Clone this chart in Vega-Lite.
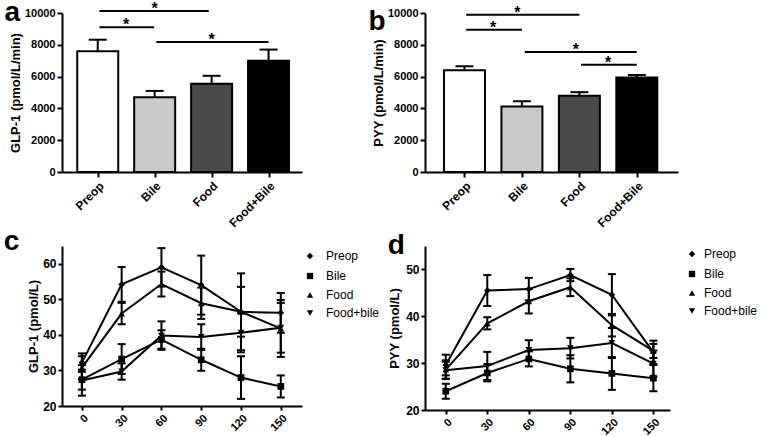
{
  "$schema": "https://vega.github.io/schema/vega-lite/v6.json",
  "padding": {"left": 3, "top": -2, "right": 0, "bottom": 0},
  "background": "white",
  "config": {
    "view": {"stroke": null},
    "font": "Liberation Sans",
    "axis": {
      "domainColor": "black", "domainWidth": 2, "tickColor": "black", "tickWidth": 2, "tickSize": 5,
      "labelColor": "black", "labelFont": "Liberation Sans", "labelFontWeight": "bold", "labelFontSize": 11,
      "titleFont": "Liberation Sans", "titleFontWeight": "bold", "titleFontSize": 13, "titleColor": "black",
      "grid": false, "labelPadding": 2, "titlePadding": 5, "labelOverlap": false, "format": "d"
    },
    "axisY": {"titlePadding": 2},
    "legend": {
      "labelFont": "Liberation Sans", "labelFontSize": 12, "labelColor": "black",
      "symbolFillColor": "black", "symbolStrokeColor": "black", "symbolSize": 40, "rowPadding": 6, "labelOffset": 8
    },
    "title": {"font": "Liberation Sans", "fontWeight": "bold", "fontSize": 28, "color": "black", "anchor": "start", "frame": "bounds", "baseline": "alphabetic"}
  },
  "datasets": {
    "barsA": [
      {"g": "Preop", "i": 0, "mean": 7600, "upper": 8320},
      {"g": "Bile", "i": 1, "mean": 4700, "upper": 5100},
      {"g": "Food", "i": 2, "mean": 5550, "upper": 6050},
      {"g": "Food+Bile", "i": 3, "mean": 7000, "upper": 7700}
    ],
    "barsB": [
      {"g": "Preop", "i": 0, "mean": 6400, "upper": 6650},
      {"g": "Bile", "i": 1, "mean": 4120, "upper": 4450},
      {"g": "Food", "i": 2, "mean": 4800, "upper": 5020},
      {"g": "Food+Bile", "i": 3, "mean": 5950, "upper": 6100}
    ],
    "sigA": [
      {"x1": 0.03, "x2": 1.95, "y": 10130, "xm": 1.0},
      {"x1": 0.03, "x2": 0.99, "y": 9100, "xm": 0.5},
      {"x1": 1.03, "x2": 3.0, "y": 8180, "xm": 2.0}
    ],
    "sigB": [
      {"x1": 0.03, "x2": 2.0, "y": 9890, "xm": 0.92},
      {"x1": 0.03, "x2": 1.0, "y": 8950, "xm": 0.5},
      {"x1": 1.05, "x2": 3.0, "y": 7550, "xm": 1.94},
      {"x1": 2.03, "x2": 3.0, "y": 6750, "xm": 2.5}
    ],
    "lineC": [
      {"t": 0, "grp": "Preop", "v": 32.2, "lo": 29.6, "hi": 34.8},
      {"t": 30, "grp": "Preop", "v": 54.2, "lo": 49.3, "hi": 59.1},
      {"t": 60, "grp": "Preop", "v": 59.0, "lo": 53.6, "hi": 64.4},
      {"t": 90, "grp": "Preop", "v": 54.0, "lo": 45.7, "hi": 62.3},
      {"t": 120, "grp": "Preop", "v": 46.5, "lo": 35.7, "hi": 57.3},
      {"t": 150, "grp": "Preop", "v": 46.2, "lo": 40.6, "hi": 51.8},
      {"t": 0, "grp": "Bile", "v": 27.4, "lo": 24.6, "hi": 30.2},
      {"t": 30, "grp": "Bile", "v": 33.2, "lo": 29.0, "hi": 37.4},
      {"t": 60, "grp": "Bile", "v": 38.7, "lo": 36.1, "hi": 41.3},
      {"t": 90, "grp": "Bile", "v": 33.0, "lo": 29.9, "hi": 36.1},
      {"t": 120, "grp": "Bile", "v": 28.0, "lo": 22.0, "hi": 34.0},
      {"t": 150, "grp": "Bile", "v": 25.5, "lo": 22.4, "hi": 28.6},
      {"t": 0, "grp": "Food", "v": 30.8, "lo": 27.6, "hi": 34.0},
      {"t": 30, "grp": "Food", "v": 46.0, "lo": 43.0, "hi": 49.0},
      {"t": 60, "grp": "Food", "v": 54.3, "lo": 50.8, "hi": 57.8},
      {"t": 90, "grp": "Food", "v": 48.9, "lo": 44.5, "hi": 53.3},
      {"t": 120, "grp": "Food", "v": 46.5, "lo": 39.5, "hi": 53.5},
      {"t": 150, "grp": "Food", "v": 41.8, "lo": 33.8, "hi": 49.8},
      {"t": 0, "grp": "Food+bile", "v": 27.2, "lo": 22.9, "hi": 31.5},
      {"t": 30, "grp": "Food+bile", "v": 29.7, "lo": 27.4, "hi": 32.0},
      {"t": 60, "grp": "Food+bile", "v": 39.8, "lo": 35.8, "hi": 43.8},
      {"t": 90, "grp": "Food+bile", "v": 39.4, "lo": 35.8, "hi": 43.0},
      {"t": 120, "grp": "Food+bile", "v": 40.6, "lo": 35.1, "hi": 46.1},
      {"t": 150, "grp": "Food+bile", "v": 42.0, "lo": 35.0, "hi": 49.0}
    ],
    "lineD": [
      {"t": 0, "grp": "Preop", "v": 29.6, "lo": 27.4, "hi": 31.8},
      {"t": 30, "grp": "Preop", "v": 45.5, "lo": 42.2, "hi": 48.8},
      {"t": 60, "grp": "Preop", "v": 45.8, "lo": 43.4, "hi": 48.2},
      {"t": 90, "grp": "Preop", "v": 48.8, "lo": 47.5, "hi": 50.1},
      {"t": 120, "grp": "Preop", "v": 44.6, "lo": 40.2, "hi": 49.0},
      {"t": 150, "grp": "Preop", "v": 32.3, "lo": 29.8, "hi": 34.8},
      {"t": 0, "grp": "Bile", "v": 24.0, "lo": 22.4, "hi": 25.6},
      {"t": 30, "grp": "Bile", "v": 27.9, "lo": 26.1, "hi": 29.7},
      {"t": 60, "grp": "Bile", "v": 30.9, "lo": 29.3, "hi": 32.5},
      {"t": 90, "grp": "Bile", "v": 28.8, "lo": 25.9, "hi": 31.7},
      {"t": 120, "grp": "Bile", "v": 27.8, "lo": 24.3, "hi": 31.3},
      {"t": 150, "grp": "Bile", "v": 26.8, "lo": 24.0, "hi": 29.6},
      {"t": 0, "grp": "Food", "v": 28.6, "lo": 26.6, "hi": 30.6},
      {"t": 30, "grp": "Food", "v": 38.5, "lo": 37.2, "hi": 39.8},
      {"t": 60, "grp": "Food", "v": 43.2, "lo": 40.6, "hi": 45.8},
      {"t": 90, "grp": "Food", "v": 46.2, "lo": 44.3, "hi": 48.1},
      {"t": 120, "grp": "Food", "v": 38.1, "lo": 35.7, "hi": 40.5},
      {"t": 150, "grp": "Food", "v": 32.6, "lo": 31.1, "hi": 34.1},
      {"t": 0, "grp": "Food+bile", "v": 28.5, "lo": 26.7, "hi": 30.3},
      {"t": 30, "grp": "Food+bile", "v": 29.4, "lo": 26.4, "hi": 32.4},
      {"t": 60, "grp": "Food+bile", "v": 32.8, "lo": 30.7, "hi": 34.9},
      {"t": 90, "grp": "Food+bile", "v": 33.2, "lo": 31.0, "hi": 35.4},
      {"t": 120, "grp": "Food+bile", "v": 34.3, "lo": 31.1, "hi": 37.5},
      {"t": 150, "grp": "Food+bile", "v": 29.9, "lo": 27.1, "hi": 32.7}
    ]
  },
  "bounds": "flush",
  "columns": 2,
  "spacing": {"row": 74, "column": 123},
  "resolve": {"scale": {"shape": "independent", "fill": "independent"}, "legend": {"shape": "independent", "fill": "independent"}},
  "concat": [
    {
      "width": 240, "height": 159,
      "title": {"text": "a", "offset": -26, "dx": -5},
      "layer": [
        {
          "data": {"name": "barsA"},
          "mark": {"type": "bar", "size": 41, "stroke": "black", "strokeWidth": 2, "orient": "vertical"},
          "encoding": {
            "x": {"field": "i", "type": "quantitative", "title": null, "scale": {"domain": [-0.54, 3.5], "nice": false, "zero": false},
              "axis": {"values": [0, 1, 2, 3], "labelExpr": "['Preop','Bile','Food','Food+Bile'][datum.value]", "labelAngle": -45, "labelFontSize": 12, "labelPadding": 3}},
            "y": {"field": "mean", "type": "quantitative", "title": "GLP-1 (pmol/L/min)", "scale": {"domain": [0, 10000], "nice": false},
              "axis": {"values": [0, 2000, 4000, 6000, 8000, 10000]}},
            "y2": {"datum": 0},
            "fill": {"field": "g", "type": "nominal", "legend": null,
              "scale": {"domain": ["Preop", "Bile", "Food", "Food+Bile"], "range": ["#ffffff", "#c9c9c9", "#4a4a4a", "#000000"]}}
          }
        },
        {
          "data": {"name": "barsA"},
          "mark": {"type": "rule", "strokeWidth": 2, "color": "black"},
          "encoding": {
            "x": {"field": "i", "type": "quantitative", "title": null, "axis": {"values": [0, 1, 2, 3], "labelExpr": "['Preop','Bile','Food','Food+Bile'][datum.value]", "labelAngle": -45, "labelFontSize": 12, "labelPadding": 3}},
            "y": {"field": "mean", "type": "quantitative", "title": "GLP-1 (pmol/L/min)", "axis": {"values": [0, 2000, 4000, 6000, 8000, 10000]}},
            "y2": {"field": "upper"}
          }
        },
        {
          "data": {"name": "barsA"},
          "mark": {"type": "tick", "orient": "horizontal", "size": 18, "thickness": 2, "color": "black", "opacity": 1},
          "encoding": {
            "x": {"field": "i", "type": "quantitative", "title": null, "axis": {"values": [0, 1, 2, 3], "labelExpr": "['Preop','Bile','Food','Food+Bile'][datum.value]", "labelAngle": -45, "labelFontSize": 12, "labelPadding": 3}},
            "y": {"field": "upper", "type": "quantitative", "title": "GLP-1 (pmol/L/min)", "axis": {"values": [0, 2000, 4000, 6000, 8000, 10000]}}
          }
        },
        {
          "data": {"name": "sigA"},
          "mark": {"type": "rule", "strokeWidth": 2, "color": "black"},
          "encoding": {
            "x": {"field": "x1", "type": "quantitative", "title": null, "axis": {"values": [0, 1, 2, 3], "labelExpr": "['Preop','Bile','Food','Food+Bile'][datum.value]", "labelAngle": -45, "labelFontSize": 12, "labelPadding": 3}},
            "x2": {"field": "x2"},
            "y": {"field": "y", "type": "quantitative", "title": "GLP-1 (pmol/L/min)", "axis": {"values": [0, 2000, 4000, 6000, 8000, 10000]}}
          }
        },
        {
          "data": {"name": "sigA"},
          "mark": {"type": "text", "text": "*", "fontSize": 16, "fontWeight": "bold", "baseline": "alphabetic", "dy": 3, "color": "black"},
          "encoding": {
            "x": {"field": "xm", "type": "quantitative", "title": null, "axis": {"values": [0, 1, 2, 3], "labelExpr": "['Preop','Bile','Food','Food+Bile'][datum.value]", "labelAngle": -45, "labelFontSize": 12, "labelPadding": 3}},
            "y": {"field": "y", "type": "quantitative", "title": "GLP-1 (pmol/L/min)", "axis": {"values": [0, 2000, 4000, 6000, 8000, 10000]}}
          }
        }
      ]
    },
    {
      "width": 253, "height": 159,
      "title": {"text": "b", "offset": -31, "dx": -4},
      "layer": [
        {
          "data": {"name": "barsB"},
          "mark": {"type": "bar", "size": 41, "stroke": "black", "strokeWidth": 2, "orient": "vertical"},
          "encoding": {
            "x": {"field": "i", "type": "quantitative", "title": null, "scale": {"domain": [-0.6, 3.63], "nice": false, "zero": false},
              "axis": {"values": [0, 1, 2, 3], "labelExpr": "['Preop','Bile','Food','Food+Bile'][datum.value]", "labelAngle": -45, "labelFontSize": 12, "labelPadding": 3}},
            "y": {"field": "mean", "type": "quantitative", "title": "PYY (pmol/L/min)", "scale": {"domain": [0, 10000], "nice": false},
              "axis": {"values": [0, 2000, 4000, 6000, 8000, 10000]}},
            "y2": {"datum": 0},
            "fill": {"field": "g", "type": "nominal", "legend": null,
              "scale": {"domain": ["Preop", "Bile", "Food", "Food+Bile"], "range": ["#ffffff", "#c9c9c9", "#4a4a4a", "#000000"]}}
          }
        },
        {
          "data": {"name": "barsB"},
          "mark": {"type": "rule", "strokeWidth": 2, "color": "black"},
          "encoding": {
            "x": {"field": "i", "type": "quantitative", "title": null, "axis": {"values": [0, 1, 2, 3], "labelExpr": "['Preop','Bile','Food','Food+Bile'][datum.value]", "labelAngle": -45, "labelFontSize": 12, "labelPadding": 3}},
            "y": {"field": "mean", "type": "quantitative", "title": "PYY (pmol/L/min)", "axis": {"values": [0, 2000, 4000, 6000, 8000, 10000]}},
            "y2": {"field": "upper"}
          }
        },
        {
          "data": {"name": "barsB"},
          "mark": {"type": "tick", "orient": "horizontal", "size": 18, "thickness": 2, "color": "black", "opacity": 1},
          "encoding": {
            "x": {"field": "i", "type": "quantitative", "title": null, "axis": {"values": [0, 1, 2, 3], "labelExpr": "['Preop','Bile','Food','Food+Bile'][datum.value]", "labelAngle": -45, "labelFontSize": 12, "labelPadding": 3}},
            "y": {"field": "upper", "type": "quantitative", "title": "PYY (pmol/L/min)", "axis": {"values": [0, 2000, 4000, 6000, 8000, 10000]}}
          }
        },
        {
          "data": {"name": "sigB"},
          "mark": {"type": "rule", "strokeWidth": 2, "color": "black"},
          "encoding": {
            "x": {"field": "x1", "type": "quantitative", "title": null, "axis": {"values": [0, 1, 2, 3], "labelExpr": "['Preop','Bile','Food','Food+Bile'][datum.value]", "labelAngle": -45, "labelFontSize": 12, "labelPadding": 3}},
            "x2": {"field": "x2"},
            "y": {"field": "y", "type": "quantitative", "title": "PYY (pmol/L/min)", "axis": {"values": [0, 2000, 4000, 6000, 8000, 10000]}}
          }
        },
        {
          "data": {"name": "sigB"},
          "mark": {"type": "text", "text": "*", "fontSize": 16, "fontWeight": "bold", "baseline": "alphabetic", "dy": 3, "color": "black"},
          "encoding": {
            "x": {"field": "xm", "type": "quantitative", "title": null, "axis": {"values": [0, 1, 2, 3], "labelExpr": "['Preop','Bile','Food','Food+Bile'][datum.value]", "labelAngle": -45, "labelFontSize": 12, "labelPadding": 3}},
            "y": {"field": "y", "type": "quantitative", "title": "PYY (pmol/L/min)", "axis": {"values": [0, 2000, 4000, 6000, 8000, 10000]}}
          }
        }
      ]
    },
    {
      "width": 240, "height": 160,
      "title": {"text": "c", "offset": -10, "dx": -24},
      "data": {"name": "lineC"},
      "encoding": {
        "x": {"field": "t", "type": "quantitative", "title": null, "scale": {"domain": [-15, 166], "nice": false, "zero": false},
          "axis": {"values": [0, 30, 60, 90, 120, 150], "labelAngle": -45, "labelFontSize": 11, "tickSize": 4}}
      },
      "layer": [
        {
          "mark": {"type": "rule", "strokeWidth": 2, "color": "black"},
          "encoding": {
            "y": {"field": "lo", "type": "quantitative", "title": "GLP-1 (pmol/L)", "scale": {"domain": [20, 65], "nice": false, "zero": false},
              "axis": {"values": [20, 30, 40, 50, 60], "labelFontSize": 12, "tickSize": 4, "titlePadding": 2}},
            "y2": {"field": "hi"}
          }
        },
        {
          "mark": {"type": "tick", "orient": "horizontal", "size": 8, "thickness": 2, "color": "black", "opacity": 1},
          "encoding": {"y": {"field": "lo", "type": "quantitative", "title": "GLP-1 (pmol/L)", "axis": {"values": [20, 30, 40, 50, 60], "labelFontSize": 12, "tickSize": 4, "titlePadding": 2}}}
        },
        {
          "mark": {"type": "tick", "orient": "horizontal", "size": 8, "thickness": 2, "color": "black", "opacity": 1},
          "encoding": {"y": {"field": "hi", "type": "quantitative", "title": "GLP-1 (pmol/L)", "axis": {"values": [20, 30, 40, 50, 60], "labelFontSize": 12, "tickSize": 4, "titlePadding": 2}}}
        },
        {
          "mark": {"type": "line", "strokeWidth": 2, "color": "black"},
          "encoding": {
            "y": {"field": "v", "type": "quantitative", "title": "GLP-1 (pmol/L)", "axis": {"values": [20, 30, 40, 50, 60], "labelFontSize": 12, "tickSize": 4, "titlePadding": 2}},
            "detail": {"field": "grp", "type": "nominal"}
          }
        },
        {
          "mark": {"type": "point", "filled": true, "color": "black", "opacity": 1, "size": 45},
          "encoding": {
            "y": {"field": "v", "type": "quantitative", "title": "GLP-1 (pmol/L)", "axis": {"values": [20, 30, 40, 50, 60], "labelFontSize": 12, "tickSize": 4, "titlePadding": 2}},
            "shape": {"field": "grp", "type": "nominal",
              "scale": {"domain": ["Preop", "Bile", "Food", "Food+bile"], "range": ["diamond", "square", "triangle-up", "triangle-down"]},
              "legend": {"title": null, "orient": "none", "legendX": 242, "legendY": 4, "labelOffset": 10}}
          }
        }
      ]
    },
    {
      "width": 245, "height": 164,
      "title": {"text": "d", "offset": -14, "dx": -1},
      "data": {"name": "lineD"},
      "encoding": {
        "x": {"field": "t", "type": "quantitative", "title": null, "scale": {"domain": [-15, 162], "nice": false, "zero": false},
          "axis": {"values": [0, 30, 60, 90, 120, 150], "labelAngle": -45, "labelFontSize": 11, "tickSize": 4}}
      },
      "layer": [
        {
          "mark": {"type": "rule", "strokeWidth": 2, "color": "black"},
          "encoding": {
            "y": {"field": "lo", "type": "quantitative", "title": "PYY (pmol/L)", "scale": {"domain": [20, 55], "nice": false, "zero": false},
              "axis": {"values": [20, 30, 40, 50], "labelFontSize": 12, "tickSize": 4, "titlePadding": 4}},
            "y2": {"field": "hi"}
          }
        },
        {
          "mark": {"type": "tick", "orient": "horizontal", "size": 8, "thickness": 2, "color": "black", "opacity": 1},
          "encoding": {"y": {"field": "lo", "type": "quantitative", "title": "PYY (pmol/L)", "axis": {"values": [20, 30, 40, 50], "labelFontSize": 12, "tickSize": 4, "titlePadding": 4}}}
        },
        {
          "mark": {"type": "tick", "orient": "horizontal", "size": 8, "thickness": 2, "color": "black", "opacity": 1},
          "encoding": {"y": {"field": "hi", "type": "quantitative", "title": "PYY (pmol/L)", "axis": {"values": [20, 30, 40, 50], "labelFontSize": 12, "tickSize": 4, "titlePadding": 4}}}
        },
        {
          "mark": {"type": "line", "strokeWidth": 2, "color": "black"},
          "encoding": {
            "y": {"field": "v", "type": "quantitative", "title": "PYY (pmol/L)", "axis": {"values": [20, 30, 40, 50], "labelFontSize": 12, "tickSize": 4, "titlePadding": 4}},
            "detail": {"field": "grp", "type": "nominal"}
          }
        },
        {
          "mark": {"type": "point", "filled": true, "color": "black", "opacity": 1, "size": 45},
          "encoding": {
            "y": {"field": "v", "type": "quantitative", "title": "PYY (pmol/L)", "axis": {"values": [20, 30, 40, 50], "labelFontSize": 12, "tickSize": 4, "titlePadding": 4}},
            "shape": {"field": "grp", "type": "nominal",
              "scale": {"domain": ["Preop", "Bile", "Food", "Food+bile"], "range": ["diamond", "square", "triangle-up", "triangle-down"]},
              "legend": {"title": null, "orient": "none", "legendX": 261, "legendY": 2, "labelOffset": 6}}
          }
        }
      ]
    }
  ]
}
